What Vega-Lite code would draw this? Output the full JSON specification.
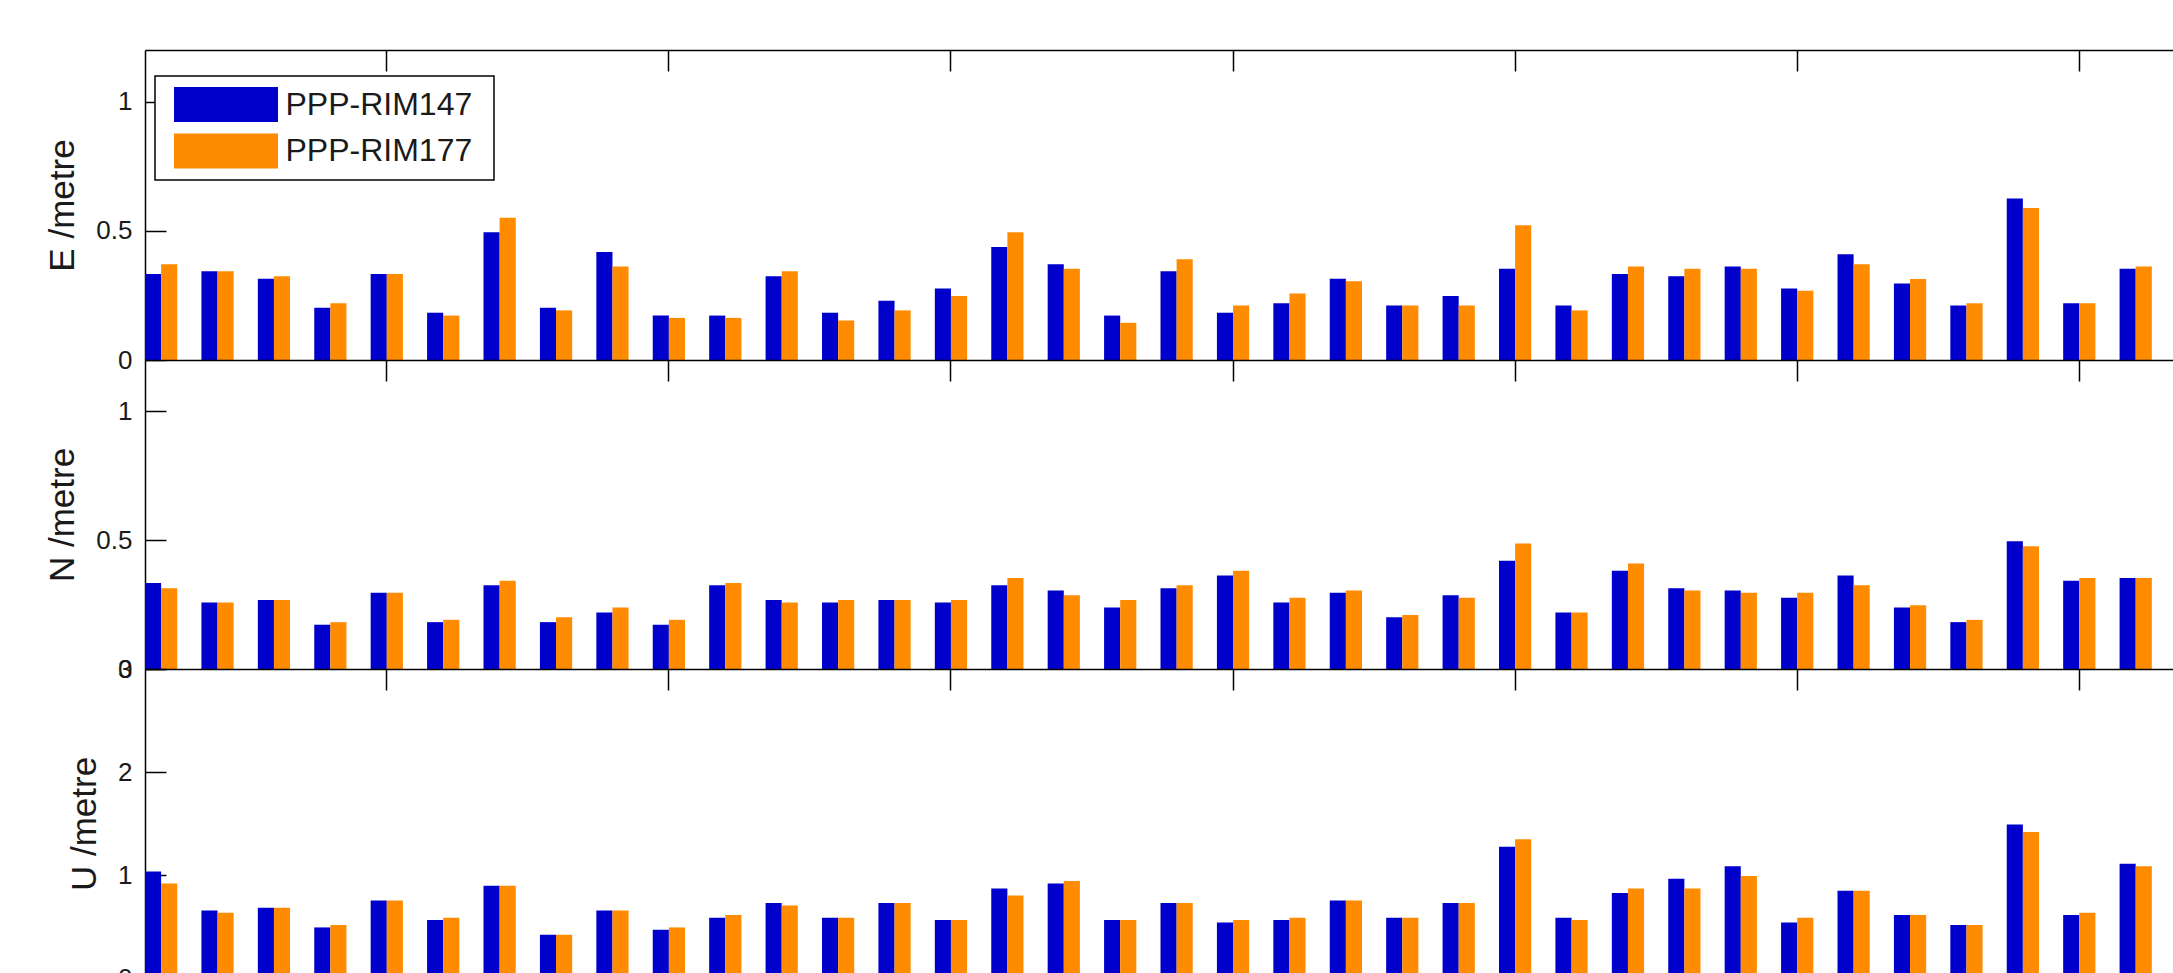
{
"$schema": "https://vega.github.io/schema/vega-lite/v6.json",
"background": "white",
"padding": {"left": 45, "top": 49, "right": 0, "bottom": 0},
"bounds": "flush",
"spacing": 0,
"config": {
  "view": {"stroke": null},
  "font": "Liberation Sans",
  "axis": {"labelFont": "Liberation Sans", "titleFont": "Liberation Sans", "domainColor": "#000", "tickColor": "#000", "labelColor": "#1a1a1a", "titleColor": "#1a1a1a", "domainWidth": 1.5, "tickWidth": 1.5, "grid": false, "titleFontWeight": "normal"},
  "legend": {"orient": "none", "legendX": 10, "legendY": 26, "symbolType": "M-2.971,-1H2.971V1H-2.971Z M-3.429,0L-3.429,0 M14.63,0L14.63,0", "symbolSize": 1225, "symbolOffset": 42.5, "symbolStrokeWidth": 0, "symbolOpacity": 1, "labelFont": "Liberation Sans", "labelFontSize": 32, "labelColor": "#1a1a1a", "labelOffset": 42, "rowPadding": 11.5, "padding": 11, "strokeColor": "#000", "fillColor": "#fff", "strokeWidth": 1.5, "labelLimit": 400}
},
"data": {"values": [
{"comp":"E","station":1,"series":"PPP-RIM147","value":0.333},{"comp":"E","station":1,"series":"PPP-RIM177","value":0.371},
{"comp":"E","station":2,"series":"PPP-RIM147","value":0.344},{"comp":"E","station":2,"series":"PPP-RIM177","value":0.344},
{"comp":"E","station":3,"series":"PPP-RIM147","value":0.315},{"comp":"E","station":3,"series":"PPP-RIM177","value":0.324},
{"comp":"E","station":4,"series":"PPP-RIM147","value":0.202},{"comp":"E","station":4,"series":"PPP-RIM177","value":0.220},
{"comp":"E","station":5,"series":"PPP-RIM147","value":0.333},{"comp":"E","station":5,"series":"PPP-RIM177","value":0.333},
{"comp":"E","station":6,"series":"PPP-RIM147","value":0.183},{"comp":"E","station":6,"series":"PPP-RIM177","value":0.172},
{"comp":"E","station":7,"series":"PPP-RIM147","value":0.495},{"comp":"E","station":7,"series":"PPP-RIM177","value":0.551},
{"comp":"E","station":8,"series":"PPP-RIM147","value":0.202},{"comp":"E","station":8,"series":"PPP-RIM177","value":0.192},
{"comp":"E","station":9,"series":"PPP-RIM147","value":0.418},{"comp":"E","station":9,"series":"PPP-RIM177","value":0.362},
{"comp":"E","station":10,"series":"PPP-RIM147","value":0.172},{"comp":"E","station":10,"series":"PPP-RIM177","value":0.163},
{"comp":"E","station":11,"series":"PPP-RIM147","value":0.172},{"comp":"E","station":11,"series":"PPP-RIM177","value":0.163},
{"comp":"E","station":12,"series":"PPP-RIM147","value":0.324},{"comp":"E","station":12,"series":"PPP-RIM177","value":0.344},
{"comp":"E","station":13,"series":"PPP-RIM147","value":0.183},{"comp":"E","station":13,"series":"PPP-RIM177","value":0.153},
{"comp":"E","station":14,"series":"PPP-RIM147","value":0.229},{"comp":"E","station":14,"series":"PPP-RIM177","value":0.192},
{"comp":"E","station":15,"series":"PPP-RIM147","value":0.277},{"comp":"E","station":15,"series":"PPP-RIM177","value":0.248},
{"comp":"E","station":16,"series":"PPP-RIM147","value":0.437},{"comp":"E","station":16,"series":"PPP-RIM177","value":0.495},
{"comp":"E","station":17,"series":"PPP-RIM147","value":0.371},{"comp":"E","station":17,"series":"PPP-RIM177","value":0.353},
{"comp":"E","station":18,"series":"PPP-RIM147","value":0.172},{"comp":"E","station":18,"series":"PPP-RIM177","value":0.144},
{"comp":"E","station":19,"series":"PPP-RIM147","value":0.344},{"comp":"E","station":19,"series":"PPP-RIM177","value":0.390},
{"comp":"E","station":20,"series":"PPP-RIM147","value":0.183},{"comp":"E","station":20,"series":"PPP-RIM177","value":0.211},
{"comp":"E","station":21,"series":"PPP-RIM147","value":0.220},{"comp":"E","station":21,"series":"PPP-RIM177","value":0.257},
{"comp":"E","station":22,"series":"PPP-RIM147","value":0.315},{"comp":"E","station":22,"series":"PPP-RIM177","value":0.305},
{"comp":"E","station":23,"series":"PPP-RIM147","value":0.211},{"comp":"E","station":23,"series":"PPP-RIM177","value":0.211},
{"comp":"E","station":24,"series":"PPP-RIM147","value":0.248},{"comp":"E","station":24,"series":"PPP-RIM177","value":0.211},
{"comp":"E","station":25,"series":"PPP-RIM147","value":0.353},{"comp":"E","station":25,"series":"PPP-RIM177","value":0.522},
{"comp":"E","station":26,"series":"PPP-RIM147","value":0.211},{"comp":"E","station":26,"series":"PPP-RIM177","value":0.192},
{"comp":"E","station":27,"series":"PPP-RIM147","value":0.333},{"comp":"E","station":27,"series":"PPP-RIM177","value":0.362},
{"comp":"E","station":28,"series":"PPP-RIM147","value":0.324},{"comp":"E","station":28,"series":"PPP-RIM177","value":0.353},
{"comp":"E","station":29,"series":"PPP-RIM147","value":0.362},{"comp":"E","station":29,"series":"PPP-RIM177","value":0.353},
{"comp":"E","station":30,"series":"PPP-RIM147","value":0.277},{"comp":"E","station":30,"series":"PPP-RIM177","value":0.268},
{"comp":"E","station":31,"series":"PPP-RIM147","value":0.409},{"comp":"E","station":31,"series":"PPP-RIM177","value":0.371},
{"comp":"E","station":32,"series":"PPP-RIM147","value":0.296},{"comp":"E","station":32,"series":"PPP-RIM177","value":0.314},
{"comp":"E","station":33,"series":"PPP-RIM147","value":0.211},{"comp":"E","station":33,"series":"PPP-RIM177","value":0.220},
{"comp":"E","station":34,"series":"PPP-RIM147","value":0.625},{"comp":"E","station":34,"series":"PPP-RIM177","value":0.588},
{"comp":"E","station":35,"series":"PPP-RIM147","value":0.220},{"comp":"E","station":35,"series":"PPP-RIM177","value":0.220},
{"comp":"E","station":36,"series":"PPP-RIM147","value":0.353},{"comp":"E","station":36,"series":"PPP-RIM177","value":0.362},
{"comp":"N","station":1,"series":"PPP-RIM147","value":0.334},{"comp":"N","station":1,"series":"PPP-RIM177","value":0.314},
{"comp":"N","station":2,"series":"PPP-RIM147","value":0.258},{"comp":"N","station":2,"series":"PPP-RIM177","value":0.258},
{"comp":"N","station":3,"series":"PPP-RIM147","value":0.268},{"comp":"N","station":3,"series":"PPP-RIM177","value":0.268},
{"comp":"N","station":4,"series":"PPP-RIM147","value":0.172},{"comp":"N","station":4,"series":"PPP-RIM177","value":0.182},
{"comp":"N","station":5,"series":"PPP-RIM147","value":0.296},{"comp":"N","station":5,"series":"PPP-RIM177","value":0.296},
{"comp":"N","station":6,"series":"PPP-RIM147","value":0.182},{"comp":"N","station":6,"series":"PPP-RIM177","value":0.191},
{"comp":"N","station":7,"series":"PPP-RIM147","value":0.325},{"comp":"N","station":7,"series":"PPP-RIM177","value":0.343},
{"comp":"N","station":8,"series":"PPP-RIM147","value":0.182},{"comp":"N","station":8,"series":"PPP-RIM177","value":0.201},
{"comp":"N","station":9,"series":"PPP-RIM147","value":0.219},{"comp":"N","station":9,"series":"PPP-RIM177","value":0.239},
{"comp":"N","station":10,"series":"PPP-RIM147","value":0.172},{"comp":"N","station":10,"series":"PPP-RIM177","value":0.191},
{"comp":"N","station":11,"series":"PPP-RIM147","value":0.325},{"comp":"N","station":11,"series":"PPP-RIM177","value":0.334},
{"comp":"N","station":12,"series":"PPP-RIM147","value":0.268},{"comp":"N","station":12,"series":"PPP-RIM177","value":0.258},
{"comp":"N","station":13,"series":"PPP-RIM147","value":0.258},{"comp":"N","station":13,"series":"PPP-RIM177","value":0.268},
{"comp":"N","station":14,"series":"PPP-RIM147","value":0.268},{"comp":"N","station":14,"series":"PPP-RIM177","value":0.268},
{"comp":"N","station":15,"series":"PPP-RIM147","value":0.258},{"comp":"N","station":15,"series":"PPP-RIM177","value":0.268},
{"comp":"N","station":16,"series":"PPP-RIM147","value":0.325},{"comp":"N","station":16,"series":"PPP-RIM177","value":0.353},
{"comp":"N","station":17,"series":"PPP-RIM147","value":0.305},{"comp":"N","station":17,"series":"PPP-RIM177","value":0.286},
{"comp":"N","station":18,"series":"PPP-RIM147","value":0.239},{"comp":"N","station":18,"series":"PPP-RIM177","value":0.268},
{"comp":"N","station":19,"series":"PPP-RIM147","value":0.314},{"comp":"N","station":19,"series":"PPP-RIM177","value":0.325},
{"comp":"N","station":20,"series":"PPP-RIM147","value":0.363},{"comp":"N","station":20,"series":"PPP-RIM177","value":0.382},
{"comp":"N","station":21,"series":"PPP-RIM147","value":0.258},{"comp":"N","station":21,"series":"PPP-RIM177","value":0.277},
{"comp":"N","station":22,"series":"PPP-RIM147","value":0.296},{"comp":"N","station":22,"series":"PPP-RIM177","value":0.305},
{"comp":"N","station":23,"series":"PPP-RIM147","value":0.201},{"comp":"N","station":23,"series":"PPP-RIM177","value":0.210},
{"comp":"N","station":24,"series":"PPP-RIM147","value":0.286},{"comp":"N","station":24,"series":"PPP-RIM177","value":0.277},
{"comp":"N","station":25,"series":"PPP-RIM147","value":0.420},{"comp":"N","station":25,"series":"PPP-RIM177","value":0.487},
{"comp":"N","station":26,"series":"PPP-RIM147","value":0.219},{"comp":"N","station":26,"series":"PPP-RIM177","value":0.219},
{"comp":"N","station":27,"series":"PPP-RIM147","value":0.382},{"comp":"N","station":27,"series":"PPP-RIM177","value":0.410},
{"comp":"N","station":28,"series":"PPP-RIM147","value":0.314},{"comp":"N","station":28,"series":"PPP-RIM177","value":0.305},
{"comp":"N","station":29,"series":"PPP-RIM147","value":0.305},{"comp":"N","station":29,"series":"PPP-RIM177","value":0.296},
{"comp":"N","station":30,"series":"PPP-RIM147","value":0.277},{"comp":"N","station":30,"series":"PPP-RIM177","value":0.296},
{"comp":"N","station":31,"series":"PPP-RIM147","value":0.363},{"comp":"N","station":31,"series":"PPP-RIM177","value":0.325},
{"comp":"N","station":32,"series":"PPP-RIM147","value":0.239},{"comp":"N","station":32,"series":"PPP-RIM177","value":0.248},
{"comp":"N","station":33,"series":"PPP-RIM147","value":0.182},{"comp":"N","station":33,"series":"PPP-RIM177","value":0.191},
{"comp":"N","station":34,"series":"PPP-RIM147","value":0.496},{"comp":"N","station":34,"series":"PPP-RIM177","value":0.477},
{"comp":"N","station":35,"series":"PPP-RIM147","value":0.343},{"comp":"N","station":35,"series":"PPP-RIM177","value":0.353},
{"comp":"N","station":36,"series":"PPP-RIM147","value":0.353},{"comp":"N","station":36,"series":"PPP-RIM177","value":0.353},
{"comp":"U","station":1,"series":"PPP-RIM147","value":1.035},{"comp":"U","station":1,"series":"PPP-RIM177","value":0.918},
{"comp":"U","station":2,"series":"PPP-RIM147","value":0.656},{"comp":"U","station":2,"series":"PPP-RIM177","value":0.634},
{"comp":"U","station":3,"series":"PPP-RIM147","value":0.683},{"comp":"U","station":3,"series":"PPP-RIM177","value":0.683},
{"comp":"U","station":4,"series":"PPP-RIM147","value":0.491},{"comp":"U","station":4,"series":"PPP-RIM177","value":0.515},
{"comp":"U","station":5,"series":"PPP-RIM147","value":0.753},{"comp":"U","station":5,"series":"PPP-RIM177","value":0.753},
{"comp":"U","station":6,"series":"PPP-RIM147","value":0.563},{"comp":"U","station":6,"series":"PPP-RIM177","value":0.585},
{"comp":"U","station":7,"series":"PPP-RIM147","value":0.896},{"comp":"U","station":7,"series":"PPP-RIM177","value":0.896},
{"comp":"U","station":8,"series":"PPP-RIM147","value":0.420},{"comp":"U","station":8,"series":"PPP-RIM177","value":0.420},
{"comp":"U","station":9,"series":"PPP-RIM147","value":0.656},{"comp":"U","station":9,"series":"PPP-RIM177","value":0.656},
{"comp":"U","station":10,"series":"PPP-RIM147","value":0.469},{"comp":"U","station":10,"series":"PPP-RIM177","value":0.491},
{"comp":"U","station":11,"series":"PPP-RIM147","value":0.585},{"comp":"U","station":11,"series":"PPP-RIM177","value":0.612},
{"comp":"U","station":12,"series":"PPP-RIM147","value":0.728},{"comp":"U","station":12,"series":"PPP-RIM177","value":0.705},
{"comp":"U","station":13,"series":"PPP-RIM147","value":0.585},{"comp":"U","station":13,"series":"PPP-RIM177","value":0.585},
{"comp":"U","station":14,"series":"PPP-RIM147","value":0.728},{"comp":"U","station":14,"series":"PPP-RIM177","value":0.728},
{"comp":"U","station":15,"series":"PPP-RIM147","value":0.563},{"comp":"U","station":15,"series":"PPP-RIM177","value":0.563},
{"comp":"U","station":16,"series":"PPP-RIM147","value":0.870},{"comp":"U","station":16,"series":"PPP-RIM177","value":0.800},
{"comp":"U","station":17,"series":"PPP-RIM147","value":0.918},{"comp":"U","station":17,"series":"PPP-RIM177","value":0.942},
{"comp":"U","station":18,"series":"PPP-RIM147","value":0.563},{"comp":"U","station":18,"series":"PPP-RIM177","value":0.563},
{"comp":"U","station":19,"series":"PPP-RIM147","value":0.728},{"comp":"U","station":19,"series":"PPP-RIM177","value":0.728},
{"comp":"U","station":20,"series":"PPP-RIM147","value":0.540},{"comp":"U","station":20,"series":"PPP-RIM177","value":0.563},
{"comp":"U","station":21,"series":"PPP-RIM147","value":0.563},{"comp":"U","station":21,"series":"PPP-RIM177","value":0.585},
{"comp":"U","station":22,"series":"PPP-RIM147","value":0.753},{"comp":"U","station":22,"series":"PPP-RIM177","value":0.753},
{"comp":"U","station":23,"series":"PPP-RIM147","value":0.585},{"comp":"U","station":23,"series":"PPP-RIM177","value":0.585},
{"comp":"U","station":24,"series":"PPP-RIM147","value":0.728},{"comp":"U","station":24,"series":"PPP-RIM177","value":0.728},
{"comp":"U","station":25,"series":"PPP-RIM147","value":1.275},{"comp":"U","station":25,"series":"PPP-RIM177","value":1.346},
{"comp":"U","station":26,"series":"PPP-RIM147","value":0.585},{"comp":"U","station":26,"series":"PPP-RIM177","value":0.563},
{"comp":"U","station":27,"series":"PPP-RIM147","value":0.825},{"comp":"U","station":27,"series":"PPP-RIM177","value":0.870},
{"comp":"U","station":28,"series":"PPP-RIM147","value":0.964},{"comp":"U","station":28,"series":"PPP-RIM177","value":0.870},
{"comp":"U","station":29,"series":"PPP-RIM147","value":1.084},{"comp":"U","station":29,"series":"PPP-RIM177","value":0.990},
{"comp":"U","station":30,"series":"PPP-RIM147","value":0.540},{"comp":"U","station":30,"series":"PPP-RIM177","value":0.585},
{"comp":"U","station":31,"series":"PPP-RIM147","value":0.848},{"comp":"U","station":31,"series":"PPP-RIM177","value":0.848},
{"comp":"U","station":32,"series":"PPP-RIM147","value":0.612},{"comp":"U","station":32,"series":"PPP-RIM177","value":0.612},
{"comp":"U","station":33,"series":"PPP-RIM147","value":0.515},{"comp":"U","station":33,"series":"PPP-RIM177","value":0.515},
{"comp":"U","station":34,"series":"PPP-RIM147","value":1.491},{"comp":"U","station":34,"series":"PPP-RIM177","value":1.417},
{"comp":"U","station":35,"series":"PPP-RIM147","value":0.612},{"comp":"U","station":35,"series":"PPP-RIM177","value":0.634},
{"comp":"U","station":36,"series":"PPP-RIM147","value":1.110},{"comp":"U","station":36,"series":"PPP-RIM177","value":1.084}
]},
"resolve": {"legend": {"color": "independent"}},
"vconcat": [
{
  "width": 2031, "height": 310,
  "transform": [{"filter": "datum.comp === 'E'"}],
  "mark": {"type": "bar"},
  "encoding": {
    "x": {"field": "station", "type": "ordinal", "scale": {"paddingInner": 0, "paddingOuter": 0},
          "axis": {"orient": "top", "labels": false, "title": null, "tickSize": -21, "values": [5,10,15,20,25,30,35], "bandPosition": 0.2857}},
    "xOffset": {"field": "series", "type": "nominal", "scale": {"paddingInner": 0, "paddingOuter": 0.75, "align": 0}},
    "y": {"field": "value", "type": "quantitative", "scale": {"domain": [0, 1.2], "nice": false},
          "axis": {"title": "E /metre", "values": [0, 0.5, 1], "format": "~g", "tickSize": -21, "labelPadding": 34, "labelFontSize": 26, "titleFontSize": 35, "titlePadding": 15}},
    "color": {"field": "series", "type": "nominal", "scale": {"domain": ["PPP-RIM147", "PPP-RIM177"], "range": ["#0000CC", "#FF8C00"]}, "legend": {"title": null}}
  }
},
{
  "width": 2031, "height": 309,
  "transform": [{"filter": "datum.comp === 'N'"}],
  "mark": {"type": "bar"},
  "encoding": {
    "x": {"field": "station", "type": "ordinal", "scale": {"paddingInner": 0, "paddingOuter": 0},
          "axis": {"orient": "top", "labels": false, "title": null, "tickSize": -21, "values": [5,10,15,20,25,30,35], "bandPosition": 0.2857}},
    "xOffset": {"field": "series", "type": "nominal", "scale": {"paddingInner": 0, "paddingOuter": 0.75, "align": 0}},
    "y": {"field": "value", "type": "quantitative", "scale": {"domain": [0, 1.2], "nice": false},
          "axis": {"title": "N /metre", "values": [0, 0.5, 1], "format": "~g", "tickSize": -21, "labelPadding": 34, "labelFontSize": 26, "titleFontSize": 35, "titlePadding": 15}},
    "color": {"field": "series", "type": "nominal", "scale": {"domain": ["PPP-RIM147", "PPP-RIM177"], "range": ["#0000CC", "#FF8C00"]}, "legend": null}
  }
},
{
  "width": 2031, "height": 309,
  "transform": [{"filter": "datum.comp === 'U'"}],
  "mark": {"type": "bar"},
  "encoding": {
    "x": {"field": "station", "type": "ordinal", "scale": {"paddingInner": 0, "paddingOuter": 0},
          "axis": {"orient": "top", "labels": false, "title": null, "tickSize": -21, "values": [5,10,15,20,25,30,35], "bandPosition": 0.2857}},
    "xOffset": {"field": "series", "type": "nominal", "scale": {"paddingInner": 0, "paddingOuter": 0.75, "align": 0}},
    "y": {"field": "value", "type": "quantitative", "scale": {"domain": [0, 3], "nice": false},
          "axis": {"title": "U /metre", "values": [0, 1, 2, 3], "format": "~g", "tickSize": -21, "labelPadding": 34, "labelFontSize": 26, "titleFontSize": 35, "titlePadding": 15}},
    "color": {"field": "series", "type": "nominal", "scale": {"domain": ["PPP-RIM147", "PPP-RIM177"], "range": ["#0000CC", "#FF8C00"]}, "legend": null}
  }
}
]
}
